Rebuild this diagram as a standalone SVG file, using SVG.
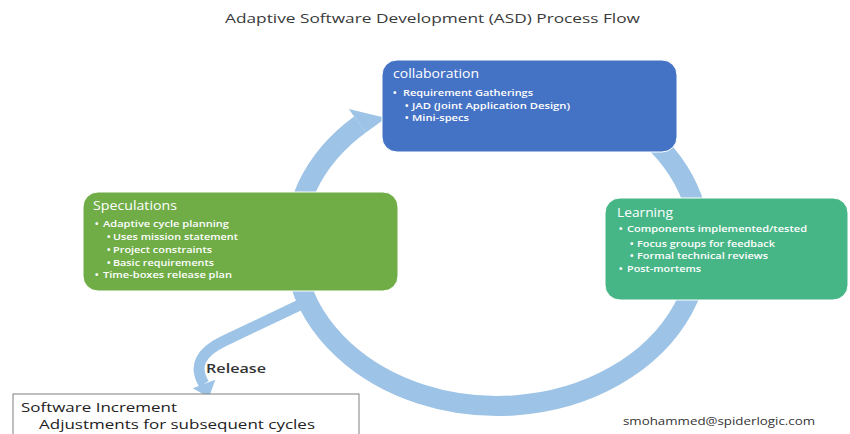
<svg xmlns="http://www.w3.org/2000/svg" width="850" height="434" viewBox="0 0 850 434">
  <style>
    text { font-family: "Open Sans", "DejaVu Sans", sans-serif; }
    .title { font-size: 13px; fill: #3a3a3a; }
    .head { font-size: 13px; fill: #ffffff; }
    .item { font-size: 9.5px; fill: #ffffff; font-weight: 600; }
    .sub { font-size: 9.2px; fill: #ffffff; font-weight: 600; }
    .dot { font-size: 9.2px; fill: #ffffff; font-weight: 700; }
    .band { fill: none; stroke: #9dc3e6; }
    .arrowhead { fill: #9dc3e6; }
    .phase { stroke: #ffffff; stroke-width: 1; }
    .plain { font-size: 13.5px; fill: #222222; }
    .note { font-size: 11px; fill: #333333; }
  </style>

  <rect width="850" height="434" fill="#ffffff"/>

  <text class="title" x="225" y="23" textLength="415" lengthAdjust="spacingAndGlyphs">Adaptive Software Development (ASD) Process Flow</text>

  <!-- cycle ring and release branch -->
  <g id="connectors">
    <path class="band" stroke-width="20" d="M 400,101.7 A 203 162 0 1 1 360,124.5"/>
    <polygon class="arrowhead" points="354.1,116.4 348.8,109.1 386,118 365.9,132.6"/>
    <path class="band" stroke-width="11" d="M 306,302 L 224,341 Q 188,358 204,384"/>
    <polygon class="arrowhead" points="192.7,388.2 215.3,379.8 209,397.2"/>
  </g>

  <!-- collaboration phase -->
  <g id="collaboration">
    <rect class="phase" x="382" y="60" width="295" height="92" rx="15" fill="#4472c4"/>
    <text class="head" x="393" y="78" textLength="86" lengthAdjust="spacingAndGlyphs">collaboration</text>
    <text class="dot" x="393" y="96">•</text>
    <text class="item" x="403" y="96" textLength="130" lengthAdjust="spacingAndGlyphs">Requirement Gatherings</text>
    <text class="dot" x="405" y="109">•</text>
    <text class="sub" x="412" y="109" textLength="158" lengthAdjust="spacingAndGlyphs">JAD (Joint Application Design)</text>
    <text class="dot" x="405" y="121">•</text>
    <text class="sub" x="412" y="121" textLength="57" lengthAdjust="spacingAndGlyphs">Mini-specs</text>
  </g>

  <!-- speculation phase -->
  <g id="speculations">
    <rect class="phase" x="83" y="192" width="315" height="99" rx="15" fill="#70ad47"/>
    <text class="head" x="93" y="210" textLength="84" lengthAdjust="spacingAndGlyphs">Speculations</text>
    <text class="dot" x="95" y="227">•</text>
    <text class="item" x="103" y="227" textLength="126" lengthAdjust="spacingAndGlyphs">Adaptive cycle planning</text>
    <text class="dot" x="107" y="240">•</text>
    <text class="sub" x="113" y="240" textLength="125" lengthAdjust="spacingAndGlyphs">Uses mission statement</text>
    <text class="dot" x="107" y="253">•</text>
    <text class="sub" x="113" y="253" textLength="99" lengthAdjust="spacingAndGlyphs">Project constraints</text>
    <text class="dot" x="107" y="266">•</text>
    <text class="sub" x="113" y="266" textLength="101" lengthAdjust="spacingAndGlyphs">Basic requirements</text>
    <text class="dot" x="95" y="278">•</text>
    <text class="item" x="103" y="278" textLength="129" lengthAdjust="spacingAndGlyphs">Time-boxes release plan</text>
  </g>

  <!-- learning phase -->
  <g id="learning">
    <rect class="phase" x="605" y="198" width="243" height="102" rx="15" fill="#47b687"/>
    <text class="head" x="617" y="217" textLength="56" lengthAdjust="spacingAndGlyphs">Learning</text>
    <text class="dot" x="619" y="232">•</text>
    <text class="item" x="627" y="232" textLength="180" lengthAdjust="spacingAndGlyphs">Components implemented/tested</text>
    <text class="dot" x="630" y="247">•</text>
    <text class="sub" x="637" y="247" textLength="138" lengthAdjust="spacingAndGlyphs">Focus groups for feedback</text>
    <text class="dot" x="630" y="259">•</text>
    <text class="sub" x="637" y="259" textLength="131" lengthAdjust="spacingAndGlyphs">Formal technical reviews</text>
    <text class="dot" x="619" y="272">•</text>
    <text class="item" x="627" y="272" textLength="74" lengthAdjust="spacingAndGlyphs">Post-mortems</text>
  </g>

  <!-- release output -->
  <g id="release">
    <text x="206" y="373" font-size="13" font-weight="600" fill="#333333" textLength="60" lengthAdjust="spacingAndGlyphs">Release</text>
  </g>

  <g id="software-increment">
    <rect x="13" y="394" width="346" height="60" fill="#ffffff" stroke="#7f7f7f" stroke-width="1"/>
    <text class="plain" x="21" y="412" textLength="156" lengthAdjust="spacingAndGlyphs">Software Increment</text>
    <text class="plain" x="39" y="429" textLength="276" lengthAdjust="spacingAndGlyphs">Adjustments for subsequent cycles</text>
  </g>

  <text class="note" x="623" y="425" textLength="192" lengthAdjust="spacingAndGlyphs">smohammed@spiderlogic.com</text>
</svg>
